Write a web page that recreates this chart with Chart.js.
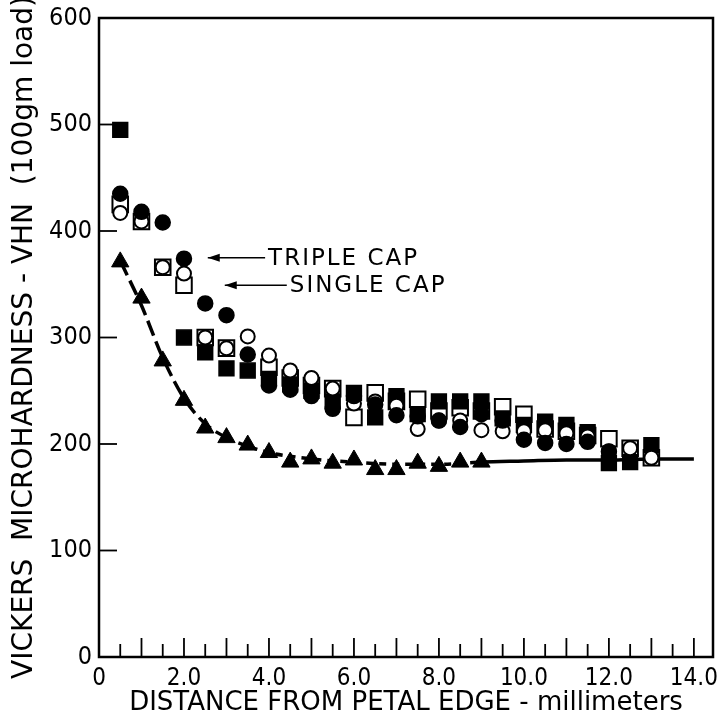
<!DOCTYPE html>
<html>
<head>
<meta charset="utf-8">
<script src="https://cdn.jsdelivr.net/npm/chart.js@4.4.1/dist/chart.umd.min.js"></script>
<style>
  html, body { margin: 0; padding: 0; background: #fff; }
  #wrap { width: 718px; height: 719px; }
</style>
</head>
<body>
<div id="wrap"><canvas id="hardnessChart"></canvas></div>
<script>
// values (distance mm, VHN)
const filledCircleX = [0.5, 1.0, 1.5, 2.0, 2.5, 3.0, 3.5, 4.0, 4.5, 5.0, 5.5, 6.0, 6.5, 7.0, 7.5, 8.0, 8.5, 9.0, 9.5, 10.0, 10.5, 11.0, 11.5, 12.0];
const filledCircleY = [435, 418, 408, 374, 332, 321, 284, 255, 251, 245, 233, 245, 237, 227, 226, 222, 216, 228, 222, 204, 201, 200, 202, 193];

const openCircleX = [0.5, 1.0, 1.5, 2.0, 2.5, 3.0, 3.5, 4.0, 4.5, 5.0, 5.5, 6.0, 6.5, 7.0, 7.5, 8.0, 8.5, 9.0, 9.5, 10.0, 10.5, 11.0, 11.5, 12.0, 12.5, 13.0];
const openCircleY = [417, 409, 366, 360, 300, 290, 301, 283, 269, 262, 252, 238, 240, 236, 214, 222, 222, 213, 212, 212, 213, 210, 207, 193, 196, 187];

const openSquareX = [0.5, 1.0, 1.5, 2.0, 2.5, 3.0, 4.0, 4.5, 5.0, 5.5, 6.0, 6.5, 7.0, 7.5, 8.0, 8.5, 9.0, 9.5, 10.0, 10.5, 11.0, 11.5, 12.0, 12.5, 13.0];
const openSquareY = [425, 409, 366, 349, 300, 290, 272, 262, 255, 252, 225, 248, 240, 242, 231, 234, 231, 235, 228, 214, 212, 208, 205, 196, 187];

const filledSquareX = [0.5, 2.0, 2.5, 3.0, 3.5, 4.0, 4.5, 5.0, 5.5, 6.0, 6.5, 7.0, 7.5, 8.0, 8.5, 9.0, 9.5, 10.0, 10.5, 11.0, 11.5, 12.0, 12.5, 13.0];
const filledSquareY = [495, 300, 286, 271, 269, 261, 256, 250, 240, 248, 225, 245, 228, 240, 240, 240, 224, 218, 221, 218, 211, 182, 183, 199];

const triangleX = [0.5, 1.0, 1.5, 2.0, 2.5, 3.0, 3.5, 4.0, 4.5, 5.0, 5.5, 6.0, 6.5, 7.0, 7.5, 8.0, 8.5, 9.0];
const triangleY = [371, 337, 278, 241, 215, 206, 199, 192, 183, 186, 182, 185, 176, 176, 182, 179, 183, 183];

// hand-drawn curve through the triangles
const curveX = [0.5, 1.0, 1.5, 2.0, 2.5, 3.0, 3.5, 4.0, 5.0, 6.0, 7.0, 8.0, 9.0, 10.0, 11.0, 12.0, 13.0, 14.0];
const curveY = [372, 330, 281, 243, 219, 206, 198, 192, 186, 183, 181, 181, 183, 184, 185, 185, 186, 186];

const xTickLabels = { 0: '0', 2: '2.0', 4: '4.0', 6: '6.0', 8: '8.0', 10: '10.0', 12: '12.0', 14: '14.0' };
const yTickLabels = { 0: '0', 100: '100', 200: '200', 300: '300', 400: '400', 500: '500', 600: '600' };

const NARROW = "'DejaVu Sans Condensed', 'Liberation Sans Narrow', 'DejaVu Sans', sans-serif";
const WIDE = "'DejaVu Sans', sans-serif";

function pts(xs, ys) {
  return xs.map((x, i) => ({ x: x, y: ys[i] }));
}

// frame, inward ticks and the two labelled arrows
const decorations = {
  id: 'decorations',
  afterDraw(chart) {
    const { ctx, chartArea: a, scales: { x, y } } = chart;
    ctx.save();
    ctx.strokeStyle = '#000';
    ctx.lineWidth = 2.5;
    ctx.strokeRect(a.left, a.top, a.right - a.left, a.bottom - a.top);

    ctx.lineWidth = 1.8;
    for (let v = 100; v < 600; v += 100) {
      const py = y.getPixelForValue(v);
      ctx.beginPath();
      ctx.moveTo(a.left, py);
      ctx.lineTo(a.left + 18, py);
      ctx.stroke();
    }
    for (let v = 0.5; v <= 14; v += 0.5) {
      const px = x.getPixelForValue(v);
      const len = Number.isInteger(v) ? 19 : 13;
      ctx.beginPath();
      ctx.moveTo(px, a.bottom);
      ctx.lineTo(px, a.bottom - len);
      ctx.stroke();
    }

    const arrows = [
      { text: 'TRIPLE CAP', tipX: 2.56, textX: 3.98, atY: 375 },
      { text: 'SINGLE CAP', tipX: 2.96, textX: 4.49, atY: 349 }
    ];
    ctx.font = '23px ' + WIDE;
    ctx.letterSpacing = '2px';
    ctx.textBaseline = 'middle';
    ctx.fillStyle = '#000';
    ctx.lineWidth = 1.5;
    arrows.forEach(ar => {
      const tx = x.getPixelForValue(ar.tipX);
      const sx = x.getPixelForValue(ar.textX) - 3;
      const py = y.getPixelForValue(ar.atY);
      ctx.beginPath();
      ctx.moveTo(sx, py);
      ctx.lineTo(tx, py);
      ctx.stroke();
      ctx.beginPath();
      ctx.moveTo(tx, py);
      ctx.lineTo(tx + 12, py - 4);
      ctx.lineTo(tx + 12, py + 4);
      ctx.closePath();
      ctx.fill();
      ctx.fillText(ar.text, sx + 3, py + 1);
    });
    ctx.restore();
  }
};

new Chart(document.getElementById('hardnessChart'), {
  type: 'scatter',
  data: {
    datasets: [
      {
        label: 'filled circles',
        data: pts(filledCircleX, filledCircleY),
        pointStyle: 'circle', pointRadius: 7.5,
        backgroundColor: '#000', borderColor: '#000', borderWidth: 1.5
      },
      {
        label: 'open circles',
        data: pts(openCircleX, openCircleY),
        pointStyle: 'circle', pointRadius: 7,
        backgroundColor: '#fff', borderColor: '#000', borderWidth: 2
      },
      {
        label: 'filled squares',
        data: pts(filledSquareX, filledSquareY),
        pointStyle: 'rect', pointRadius: 10.5,
        backgroundColor: '#000', borderColor: '#000', borderWidth: 1.5
      },
      {
        label: 'open squares',
        data: pts(openSquareX, openSquareY),
        pointStyle: 'rect', pointRadius: 11,
        backgroundColor: '#fff', borderColor: '#000', borderWidth: 2
      },
      {
        label: 'triangles',
        data: pts(triangleX, triangleY),
        pointStyle: 'triangle', pointRadius: 10,
        backgroundColor: '#000', borderColor: '#000', borderWidth: 1
      },
      {
        type: 'line',
        label: 'curve',
        data: pts(curveX, curveY),
        showLine: true, pointRadius: 0,
        borderColor: '#000', borderWidth: 3.5,
        cubicInterpolationMode: 'monotone',
        segment: {
          borderDash: c => c.p0.parsed.x < 3 ? [16, 6] : (c.p0.parsed.x < 9 ? [7, 6] : [])
        }
      }
    ]
  },
  options: {
    responsive: true,
    maintainAspectRatio: false,
    animation: false,
    events: [],
    layout: { autoPadding: false, padding: { top: 18, right: 5, left: 0, bottom: 0 } },
    plugins: {
      legend: { display: false },
      tooltip: { enabled: false }
    },
    scales: {
      x: {
        type: 'linear',
        min: 0, max: 14.45,
        grid: { display: false, drawTicks: false, tickLength: 0 },
        border: { display: false },
        afterFit: s => { s.height = 62; s.paddingLeft = 0; s.paddingRight = 0; },
        ticks: {
          stepSize: 2, includeBounds: false, autoSkip: false, maxRotation: 0,
          padding: 7, color: '#000',
          font: { family: NARROW, size: 24 },
          callback: v => xTickLabels[v]
        },
        title: {
          display: true, text: 'DISTANCE FROM PETAL EDGE - millimeters',
          color: '#000', font: { family: WIDE, size: 26 },
          padding: { top: 0, bottom: 0 }
        }
      },
      y: {
        type: 'linear',
        min: 0, max: 600,
        grid: { display: false, drawTicks: false, tickLength: 0 },
        border: { display: false },
        afterFit: s => { s.width = 99; s.paddingTop = 0; s.paddingBottom = 0; },
        ticks: {
          stepSize: 100, includeBounds: false, autoSkip: false,
          padding: 7, color: '#000',
          font: { family: NARROW, size: 25 },
          callback: v => yTickLabels[v]
        },
        title: {
          display: true, text: 'VICKERS  MICROHARDNESS - VHN  (100gm load)',
          color: '#000', font: { family: WIDE, size: 28 },
          padding: { top: 8, bottom: 0 }
        }
      }
    }
  },
  plugins: [decorations]
});
</script>
</body>
</html>
